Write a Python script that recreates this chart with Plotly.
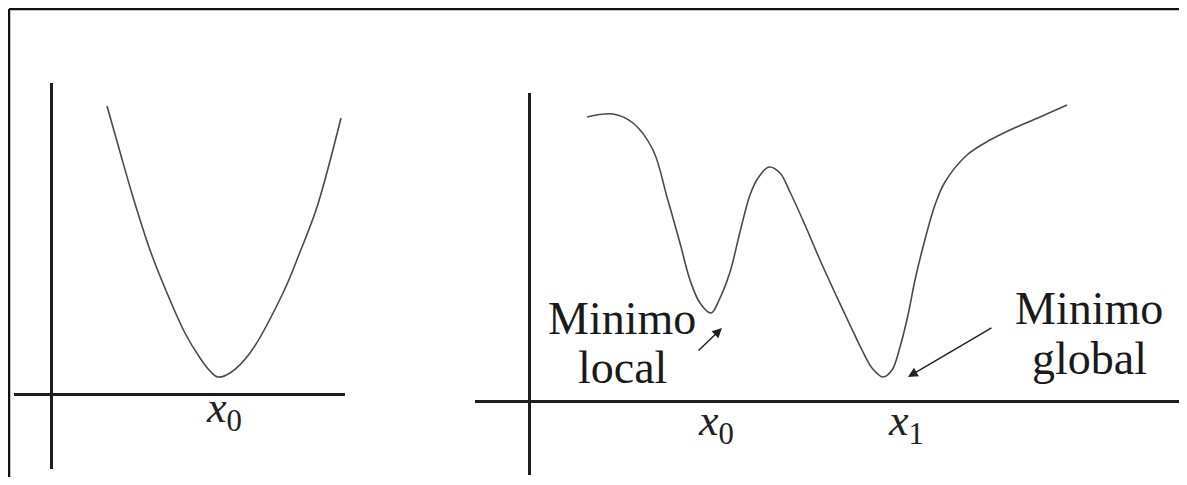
import plotly.graph_objects as go

# ---- data (units: axis units, origin at the axes crossing) ----
# left panel: convex function with a single minimum
left_x = [1.12, 1.38, 1.64, 1.98, 2.32, 2.68, 2.98, 3.18, 3.34, 3.58, 3.98, 4.64, 4.98, 5.32, 5.80]
left_y = [5.76, 4.84, 3.94, 2.88, 2.02, 1.22, 0.72, 0.46, 0.34, 0.42, 0.82, 2.02, 2.84, 3.74, 5.52]

# right panel: function with a local and a global minimum
right_x = [1.16, 1.68, 2.08, 2.48, 2.76, 3.02, 3.22, 3.42, 3.64, 3.82, 4.02, 4.22, 4.42,
           4.58, 4.80, 5.02, 5.22, 5.52, 5.82, 6.12, 6.42, 6.66, 6.86, 7.08, 7.26, 7.42, 7.58,
           7.72, 7.88, 8.12, 8.32, 8.76, 9.22, 9.62, 10.22, 10.76]
right_y = [5.68, 5.74, 5.56, 5.02, 4.08, 3.16, 2.42, 1.96, 1.76, 2.06, 2.58, 3.38, 4.12,
           4.46, 4.68, 4.56, 4.18, 3.52, 2.82, 2.16, 1.52, 1.02, 0.66, 0.48, 0.62, 1.08, 1.72,
           2.42, 3.08, 3.92, 4.38, 4.92, 5.22, 5.42, 5.68, 5.92]

# axis labels (x0 on left panel, x0/x1 on right panel)
left_tick_pos = [3.46]
left_tick_txt = ["<i>x</i><sub>0</sub>"]
right_tick_pos = [3.74, 7.54]
right_tick_txt = ["<i>x</i><sub>0</sub>", "<i>x</i><sub>1</sub>"]

# annotation texts (two lines each) and arrow data
local_lines = ["Minimo", "local"]
local_text_x = 1.86
local_text_y = [1.66, 0.68]
global_lines = ["Minimo", "global"]
global_text_x = 11.2
global_text_y = [1.86, 0.86]
local_arrow = dict(head=(3.86, 1.46), tail=(3.36, 0.98))
global_arrow = dict(head=(7.58, 0.48), tail=(9.28, 1.48))

# page body has an 8px margin: size the figure to fit the 1187x485 window
OFF = 8
W, H = 1187 - 2 * OFF, 485 - 2 * OFF
SERIF = "Liberation Serif, Times New Roman, serif"
CURVE = "#4a4a4a"
AXIS = "#1e1e1e"


def xdom(a, b):
    return [max(0, (a - OFF) / W), min(1, (b - OFF) / W)]


def ydom(top, bottom):
    return [max(0, 1 - (bottom - OFF) / H), min(1, 1 - (top - OFF) / H)]


fig = go.Figure()
fig.add_trace(go.Scatter(x=left_x, y=left_y, mode="lines", xaxis="x", yaxis="y",
                         line=dict(color=CURVE, width=1.6, shape="spline", smoothing=1.0),
                         hoverinfo="skip", showlegend=False))
fig.add_trace(go.Scatter(x=right_x, y=right_y, mode="lines", xaxis="x2", yaxis="y2",
                         line=dict(color=CURVE, width=1.6, shape="spline", smoothing=1.0),
                         hoverinfo="skip", showlegend=False))


def ax_common():
    return dict(showgrid=False, showticklabels=False, ticks="", showline=False,
                zeroline=True, zerolinecolor=AXIS, zerolinewidth=3, fixedrange=True)


right_end = min(1183, W + OFF)
fig.update_layout(
    width=W, height=H,
    margin=dict(l=0, r=0, t=0, b=0),
    paper_bgcolor="white", plot_bgcolor="white",
    xaxis=dict(domain=xdom(14, 345), range=[(14 - 51) / 50, (345 - 51) / 50], **ax_common()),
    yaxis=dict(domain=ydom(83, 469), range=[(394 - 469) / 50, (394 - 83) / 50], **ax_common()),
    xaxis2=dict(domain=xdom(475, right_end), range=[(475 - 529) / 50, (right_end - 529) / 50],
                anchor="y2", **ax_common()),
    yaxis2=dict(domain=ydom(93, 475), range=[(401 - 475) / 50, (401 - 93) / 50],
                anchor="x2", **ax_common()),
)

# frame: only the left and top edges of the original cropped box are visible
fig.add_shape(type="line", xref="paper", yref="paper", x0=1 / W, x1=1 / W, y0=0, y1=1 - 1 / H,
              line=dict(color="#111", width=2.5), layer="above")
fig.add_shape(type="line", xref="paper", yref="paper", x0=1 / W, x1=1, y0=1 - 1 / H, y1=1 - 1 / H,
              line=dict(color="#111", width=2.5), layer="above")

ann = []
for px, t in zip(left_tick_pos, left_tick_txt):
    ann.append(dict(x=px, y=-0.32, xref="x", yref="y", text=t, showarrow=False,
                    font=dict(family=SERIF, size=44, color="#222")))
for px, t in zip(right_tick_pos, right_tick_txt):
    ann.append(dict(x=px, y=-0.44, xref="x2", yref="y2", text=t, showarrow=False,
                    font=dict(family=SERIF, size=44, color="#222")))
for t, yy in zip(local_lines, local_text_y):
    ann.append(dict(x=local_text_x, y=yy, xref="x2", yref="y2", text=t, showarrow=False,
                    font=dict(family=SERIF, size=46, color="#1a1a1a")))
for t, yy in zip(global_lines, global_text_y):
    ann.append(dict(x=global_text_x, y=yy, xref="x2", yref="y2", text=t, showarrow=False,
                    font=dict(family=SERIF, size=46, color="#1a1a1a")))
for a in (local_arrow, global_arrow):
    ann.append(dict(x=a["head"][0], y=a["head"][1], ax=a["tail"][0], ay=a["tail"][1],
                    xref="x2", yref="y2", axref="x2", ayref="y2", text="",
                    showarrow=True, arrowhead=2, arrowsize=1.3, arrowwidth=1.5,
                    arrowcolor="#222", standoff=0, startstandoff=0))
fig.update_layout(annotations=ann)

fig.write_html("out.html")
